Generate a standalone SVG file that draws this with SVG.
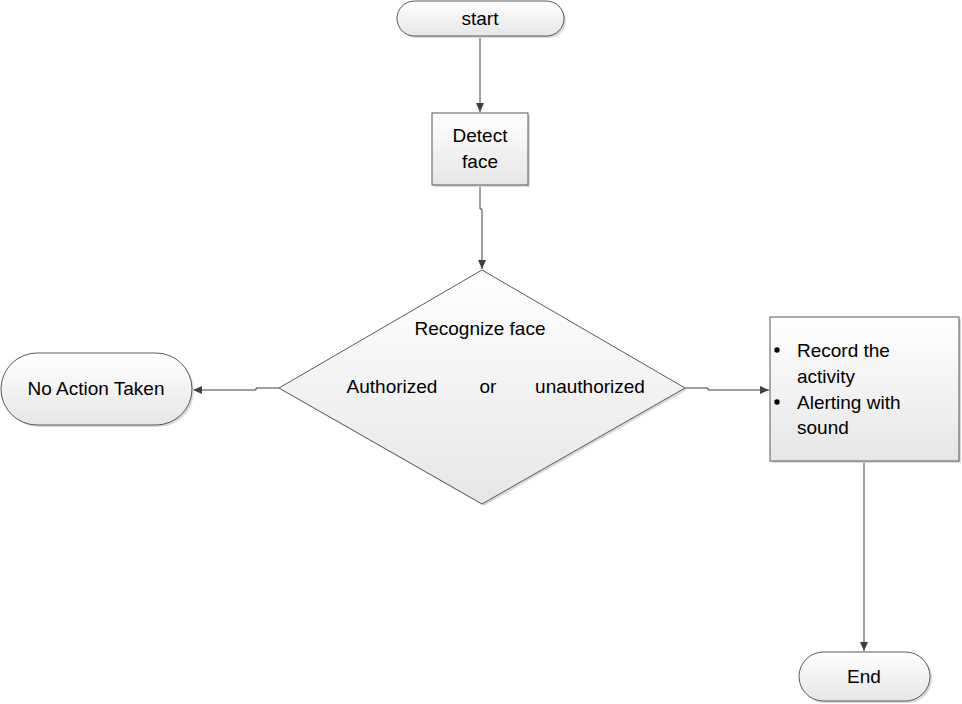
<svg xmlns="http://www.w3.org/2000/svg" width="962" height="704" viewBox="0 0 962 704">
<style>
.shape{fill:url(#g);stroke:#595959;stroke-width:1}
.shadow{fill:#d9d9d9;stroke:none}
.conn{fill:none;stroke:#404040;stroke-width:1}
text{font-family:"Liberation Sans",Arial,sans-serif;font-size:19px;fill:#000}
.c{text-anchor:middle}
</style>
<defs>
<linearGradient id="g" x1="0" y1="0" x2="0" y2="1">
<stop offset="0" stop-color="#ffffff"/>
<stop offset="1" stop-color="#e6e6e6"/>
</linearGradient>
<marker id="arr" markerWidth="10" markerHeight="10" refX="9" refY="5" orient="auto" markerUnits="userSpaceOnUse">
<path d="M0,1 L9,5 L0,9 Z" fill="#404040"/>
</marker>
</defs>
<rect width="962" height="704" fill="#fff"/>
<g id="connectors">
<path class="conn" d="M480,36 V112" marker-end="url(#arr)"/>
<path class="conn" d="M480,185 V209 H482 V269" marker-end="url(#arr)"/>
<path class="conn" d="M279,388 H256 V390 H193" marker-end="url(#arr)"/>
<path class="conn" d="M685,388 H708 V390 H769" marker-end="url(#arr)"/>
<path class="conn" d="M864,461 V651" marker-end="url(#arr)"/>
</g>
<g id="start">
<rect class="shadow" x="399" y="3" width="167" height="35" rx="17.5"/>
<rect class="shape" x="397" y="1" width="167" height="35" rx="17.5"/>
<text class="c" x="480" y="25">start</text>
</g>
<g id="detect">
<rect class="shadow" x="434" y="115" width="96" height="72"/>
<rect class="shape" x="432" y="113" width="96" height="72"/>
<text class="c" x="480" y="142">Detect</text>
<text class="c" x="480" y="168">face</text>
</g>
<g id="recognize">
<polygon class="shadow" points="484,272 687,390 484,506 281,390"/>
<polygon class="shape" points="482,270 685,388 482,504 279,388"/>
<text class="c" x="480" y="335">Recognize face</text>
<text class="c" x="392" y="393">Authorized</text>
<text class="c" x="488" y="393">or</text>
<text class="c" x="590" y="393">unauthorized</text>
</g>
<g id="noaction">
<rect class="shadow" x="3" y="355" width="191" height="72" rx="36"/>
<rect class="shape" x="1" y="353" width="191" height="72" rx="36"/>
<text class="c" x="96" y="395">No Action Taken</text>
</g>
<g id="record">
<rect class="shadow" x="772" y="319" width="189" height="144"/>
<rect class="shape" x="770" y="317" width="189" height="144"/>
<circle cx="777" cy="350" r="2.7" fill="#000"/>
<text x="797" y="357">Record the</text>
<text x="797" y="383">activity</text>
<circle cx="777" cy="402" r="2.7" fill="#000"/>
<text x="797" y="409">Alerting with</text>
<text x="797" y="434">sound</text>
</g>
<g id="end">
<rect class="shadow" x="801" y="654" width="131" height="49" rx="24.5"/>
<rect class="shape" x="799" y="652" width="131" height="49" rx="24.5"/>
<text class="c" x="864" y="683">End</text>
</g>
</svg>
